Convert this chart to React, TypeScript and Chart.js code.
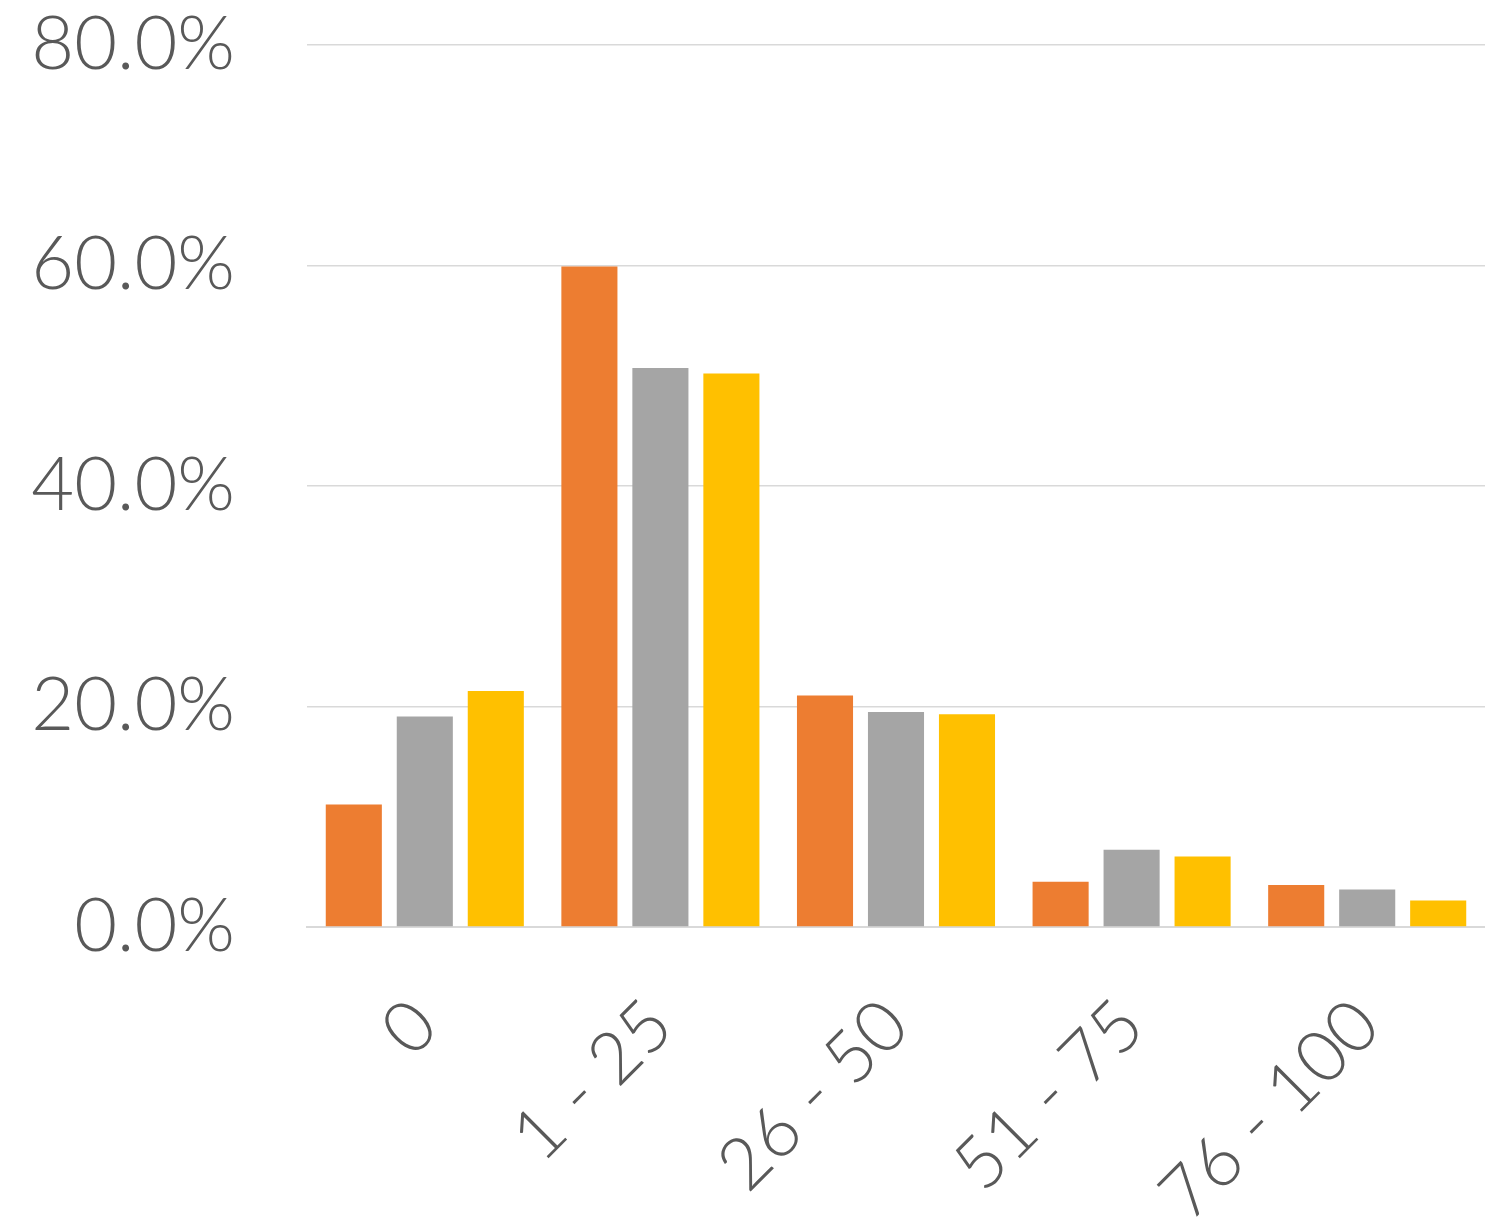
import React, { useEffect, useRef } from "react";
import { Chart, registerables } from "chart.js";

Chart.register(...registerables);

const categories = ["0", "1 - 25", "26 - 50", "51 - 75", "76 - 100"];
const seriesA = [11.1, 59.9, 21.0, 4.1, 3.8];
const seriesB = [19.1, 50.7, 19.5, 7.0, 3.4];
const seriesC = [21.4, 50.2, 19.3, 6.4, 2.4];
const yTicks = [0, 20, 40, 60, 80];

const FONT = "Lato, 'Open Sans', sans-serif";
const TEXT = "#595959";

export default function App() {
  const ref = useRef<HTMLCanvasElement | null>(null);
  useEffect(() => {
    if (!ref.current) return;
    const chart = new Chart(ref.current, {
      type: "bar",
      data: {
        labels: categories,
        datasets: [
          { label: "A", data: seriesA, backgroundColor: "#ED7D31" },
          { label: "B", data: seriesB, backgroundColor: "#A5A5A5" },
          { label: "C", data: seriesC, backgroundColor: "#FFC000" },
        ],
      },
      options: {
        animation: false,
        responsive: false,
        maintainAspectRatio: false,
        layout: { padding: { top: 45, right: -4, left: 0, bottom: 0 } },
        datasets: { bar: { categoryPercentage: 0.904, barPercentage: 0.79 } },
        plugins: { legend: { display: false }, tooltip: { enabled: false } },
        scales: {
          x: {
            grid: { display: false, drawTicks: false },
            border: { display: true, color: "#D9D9D9", width: 2 },
            ticks: {
              color: TEXT,
              font: { family: FONT, size: 72, weight: 300 },
              minRotation: 45,
              maxRotation: 45,
              padding: 56,
            },
            afterFit: (s: any) => {
              s.height = 296;
              s.paddingLeft = 0;
              s.paddingRight = 0;
            },
          },
          y: {
            min: 0,
            max: 80,
            grid: { color: "#D9D9D9", lineWidth: 1.5, drawTicks: false },
            border: { display: false },
            afterBuildTicks: (s: any) => {
              s.ticks = yTicks.map((v) => ({ value: v }));
            },
            ticks: {
              color: TEXT,
              font: { family: FONT, size: 74, weight: 300 },
              padding: 72,
              callback: (v: any) => Number(v).toFixed(1) + "%",
            },
            afterFit: (s: any) => {
              s.width = 307;
              s.paddingTop = 0;
              s.paddingBottom = 0;
            },
          },
        },
      },
    });
    return () => chart.destroy();
  }, []);
  return (
    <div style={{ position: "absolute", left: 0, top: 0, width: 1485, height: 1223, background: "#fff" }}>
      <canvas ref={ref} width={1485} height={1223} style={{ width: 1485, height: 1223 }} />
    </div>
  );
}
